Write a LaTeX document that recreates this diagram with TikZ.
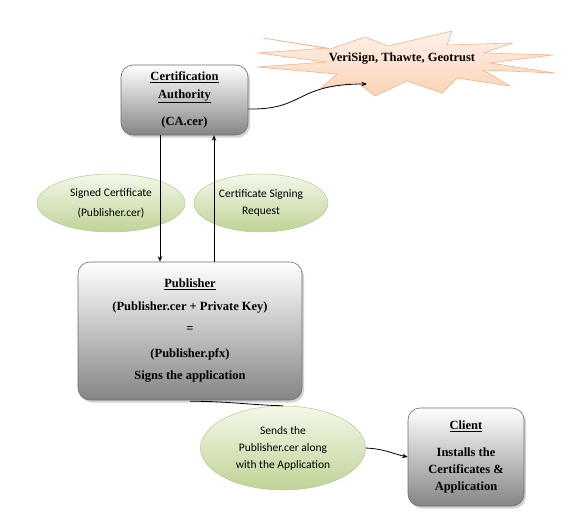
\documentclass[tikz,border=0pt]{standalone}
\usepackage{fontspec}
\setmainfont{Liberation Serif}
\newfontfamily\calib{Carlito}
\newfontfamily\tnr{Liberation Serif}
\usetikzlibrary{shapes.geometric,shadows,arrows.meta,calc}
\definecolor{boxline}{HTML}{6E6E6E}
\definecolor{boxbot}{HTML}{858585}
\definecolor{ellline}{HTML}{B5C98E}
\definecolor{elltop}{HTML}{F4F8EA}
\definecolor{ellbot}{HTML}{BFD396}
\definecolor{startop}{HTML}{FEF1E8}
\definecolor{starbot}{HTML}{FAD3B5}
\definecolor{starline}{HTML}{F2B48A}
\tikzset{
  graybox/.style={draw=boxline, line width=0.6pt, rounded corners=12pt,
    top color=white, bottom color=boxbot, align=center,
    drop shadow={shadow xshift=2pt, shadow yshift=-2.5pt, opacity=0.35},
    inner sep=0pt},
  greenell/.style={ellipse, draw=ellline, line width=0.5pt, top color=elltop,
    bottom color=ellbot, align=center, inner sep=0pt},
  arr/.style={line width=0.8pt, -{Stealth[length=5.5pt,width=4.5pt]}},
  plain/.style={line width=0.8pt}
}
\begin{document}
\begin{tikzpicture}[x=1pt,y=-1pt]
\useasboundingbox (0,0) rectangle (572,527);
% starburst
\draw[starline, line width=0.6pt, top color=startop, bottom color=starbot]
  (263,38) -- (330,49) -- (365,37) -- (388,46) -- (452,31) -- (447,45)
  -- (512,43) -- (484,53) -- (553,55) -- (490,63) -- (555,73) -- (483,70)
  -- (510,86) -- (457,78) -- (442,93) -- (407,81) -- (375,96) -- (357,82)
  -- (321,88) -- (337,74) -- (257,67) -- (326,62) -- (258,53) -- (327,48) -- cycle;
\node[font=\tnr\bfseries\fontsize{12.5}{15}\selectfont] (star) at (402,59) {VeriSign, Thawte, Geotrust};
\coordinate (startip) at (367,84);

% boxes
\node[graybox, minimum width=127pt, minimum height=70pt,
  font=\tnr\bfseries\fontsize{12.5}{18}\selectfont] (ca) at (184.5,100)
  {\underline{Certification}\\\underline{Authority}\\[9pt](CA.cer)};
\node[graybox, minimum width=224pt, minimum height=138pt,
  font=\tnr\bfseries\fontsize{12.5}{22.5}\selectfont] (pub) at (190,331)
  {\underline{Publisher}\\(Publisher.cer + Private Key)\\=\\[2pt](Publisher.pfx)\\Signs the application};
\node[graybox, minimum width=116pt, minimum height=98pt,
  font=\tnr\bfseries\fontsize{12.5}{17}\selectfont] (cl) at (466,457)
  {\underline{Client}\\[10pt]Installs the\\Certificates \&\\Application};

% ellipses
\node[greenell, minimum width=148pt, minimum height=58pt,
  font=\calib\fontsize{11.5}{20}\selectfont] (signed) at (111,203)
  {Signed Certificate\\(Publisher.cer)};
\node[greenell, minimum width=134pt, minimum height=58pt,
  font=\calib\fontsize{11.5}{17}\selectfont] (csr) at (261,203)
  {Certificate Signing\\Request};
\node[greenell, minimum width=165pt, minimum height=84pt,
  font=\calib\fontsize{11.5}{17}\selectfont] (sends) at (283,448)
  {Sends the\\Publisher.cer along\\with the Application};

% connectors
\coordinate (cadown) at ($(ca.south)+(-24.5,0)$);
\coordinate (caup) at ($(ca.south)+(29.5,0)$);
\draw[arr] (cadown) -- (cadown |- pub.north);
\draw[arr] (caup |- pub.north) -- (caup);
\draw[arr] ($(ca.east)+(0,9)$) .. controls (305,110) and (295,84) .. (startip);
\draw[plain] ($(pub.south)+(0,1)$) .. controls (225,401) and (250,405) .. (sends.north);
\draw[arr] (sends.east) .. controls (385,449) and (390,453) .. (cl.west);
\end{tikzpicture}
\end{document}
